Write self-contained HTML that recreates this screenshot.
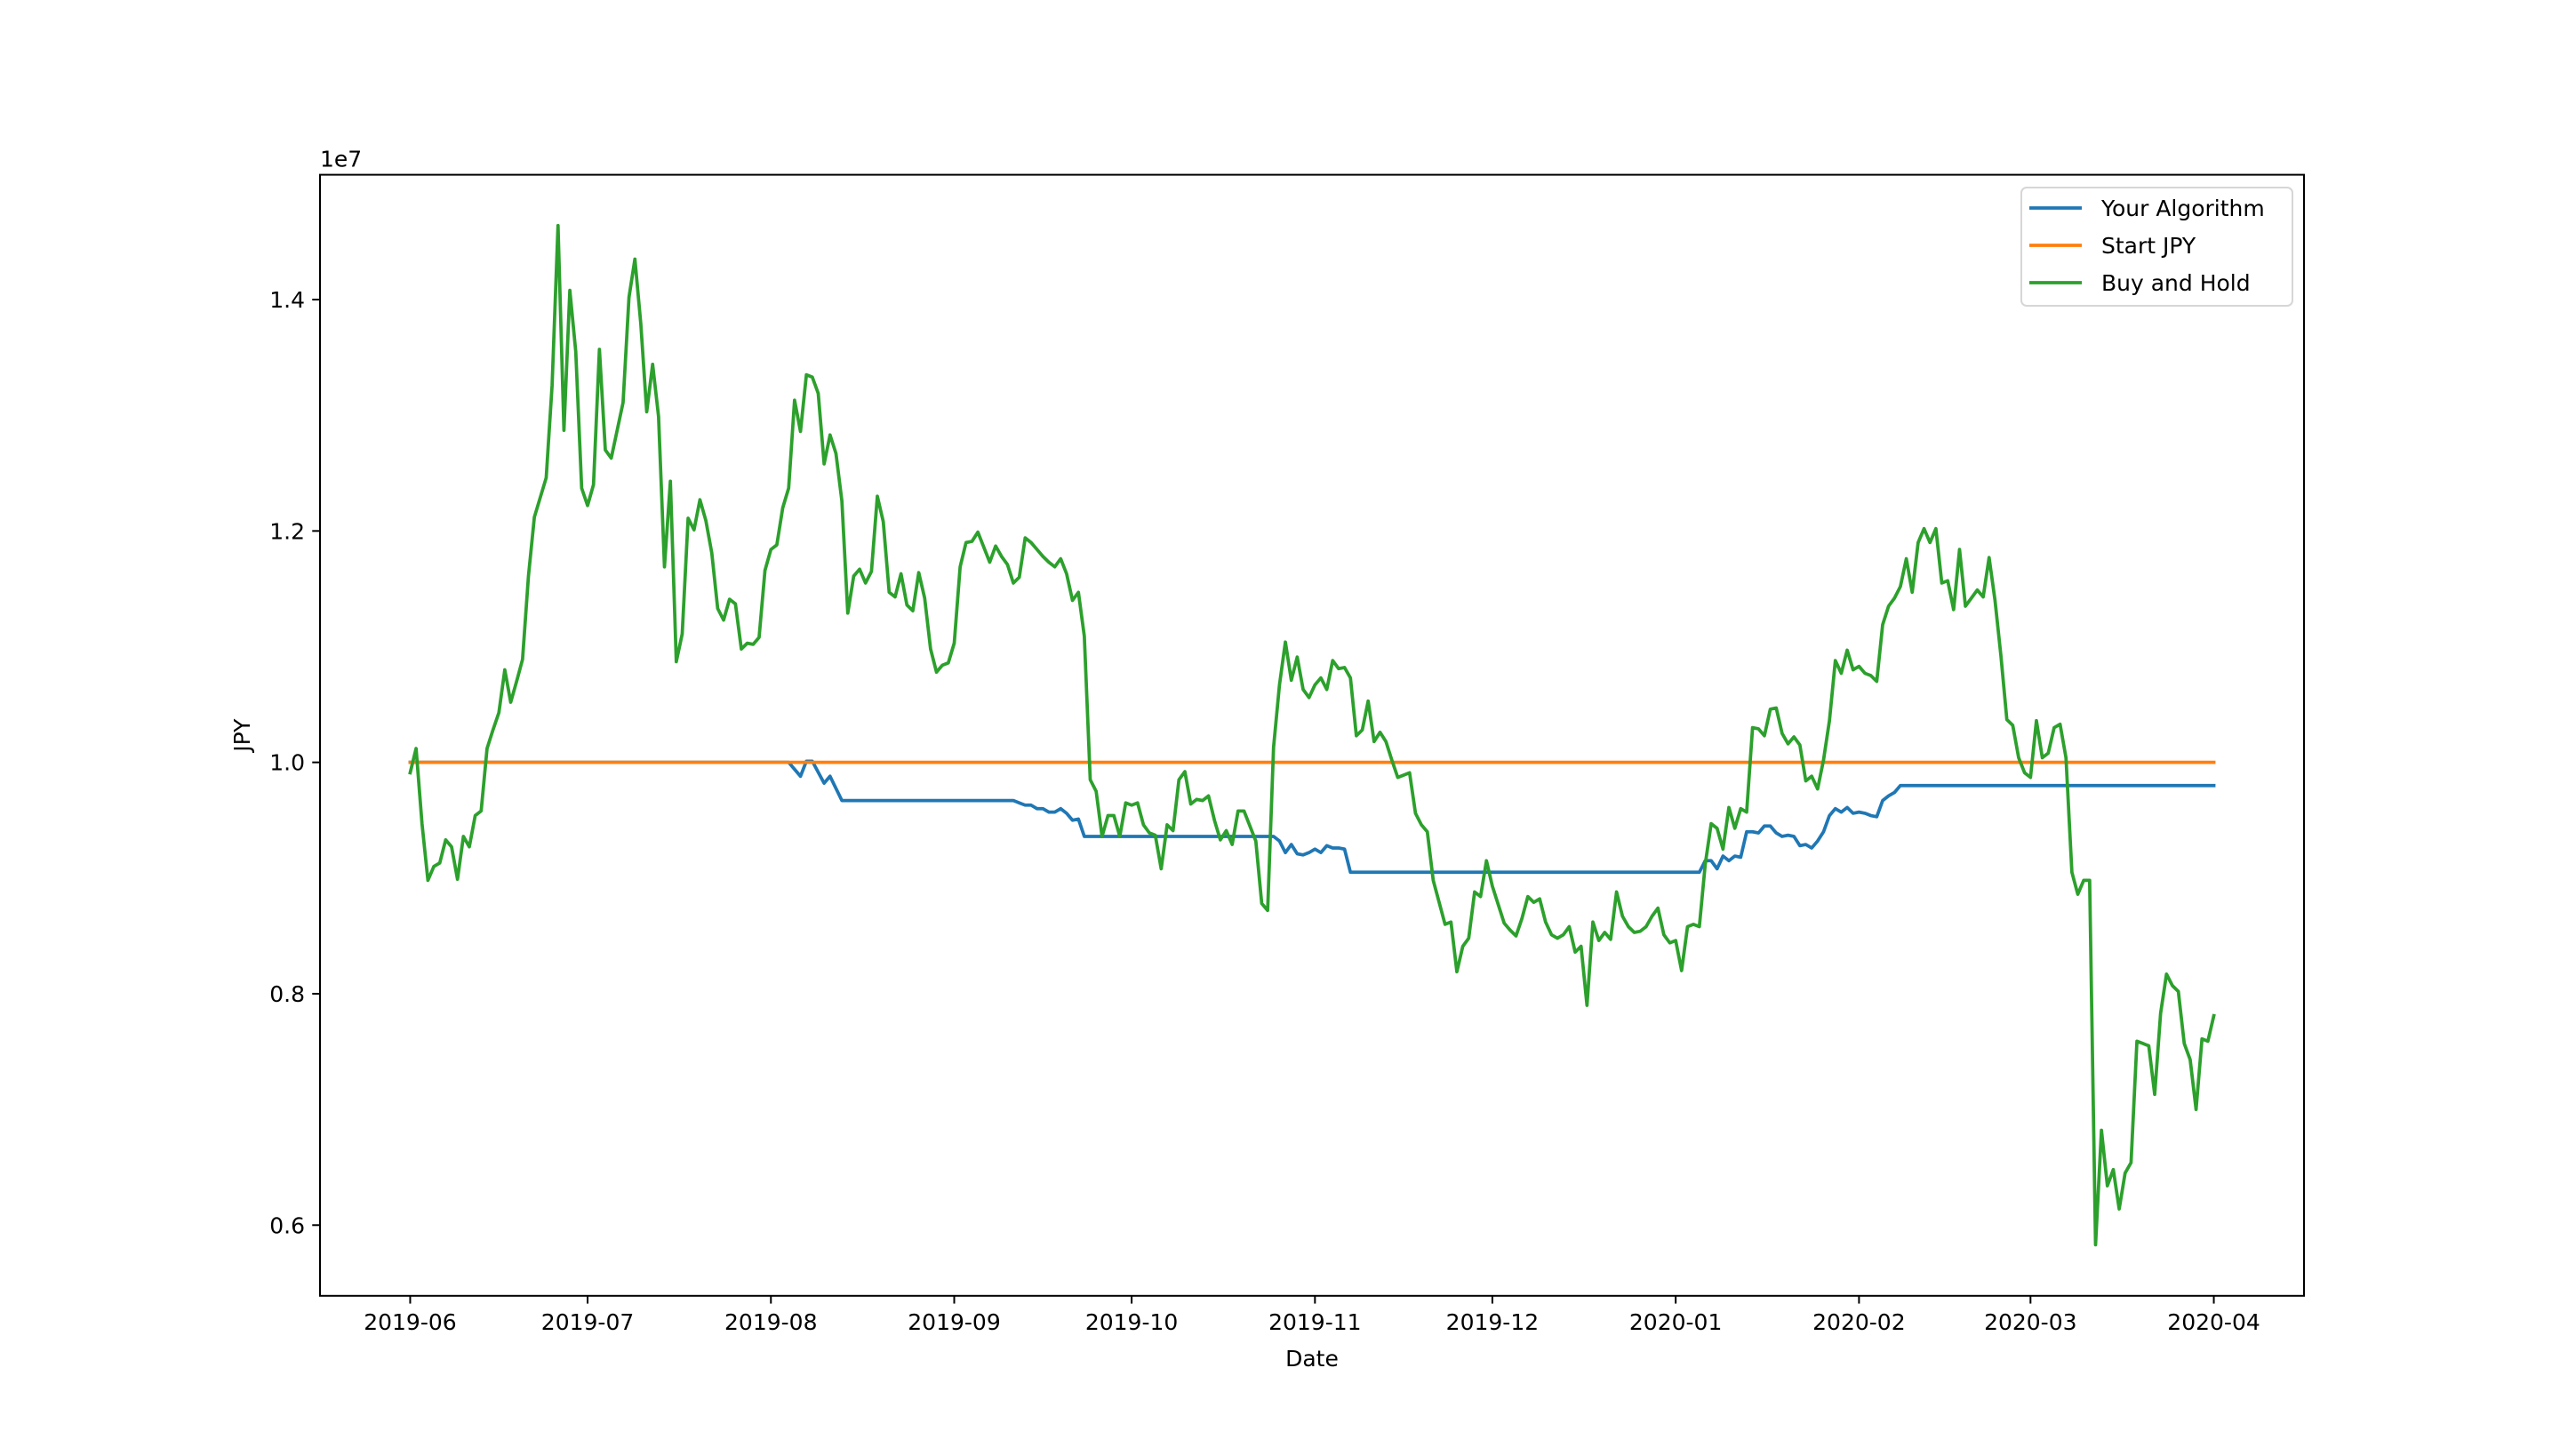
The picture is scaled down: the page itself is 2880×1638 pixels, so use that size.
<!DOCTYPE html>
<html><head><meta charset="utf-8"><style>
html,body{margin:0;padding:0;background:#fff;}
svg{display:block;font-family:"DejaVu Sans","Liberation Sans",sans-serif;}
</style></head><body>
<svg id="chart" width="2880" height="1638" viewBox="0 0 2880 1638" xmlns="http://www.w3.org/2000/svg">
<rect width="2880" height="1638" fill="#fff"/>
<g id="plot"></g>
</svg>
<script>
const startDate = "2019-06-01";
const xTickLabels = ["2019-06","2019-07","2019-08","2019-09","2019-10","2019-11","2019-12","2020-01","2020-02","2020-03","2020-04"];
const xTickDays = [0,30,61,92,122,153,183,214,245,274,305];
const yTickValues = [0.6,0.8,1.0,1.2,1.4];
const yTickLabels = ["0.6","0.8","1.0","1.2","1.4"];
const holdDays = [0,1,2,3,4,5,6,7,8,9,10,11,12,13,14,15,16,17,18,19,20,21,23,24,25,26,27,28,29,30,31,32,33,34,35,36,37,38,39,40,41,42,43,44,45,46,47,48,49,50,51,52,53,54,55,56,57,58,59,60,61,62,63,64,65,66,67,68,69,70,71,72,73,74,75,76,77,78,79,80,81,82,83,84,85,86,87,88,89,90,91,92,93,94,95,96,98,99,100,101,102,103,104,105,106,107,108,109,110,111,112,113,114,115,116,117,118,119,120,121,122,123,124,125,126,127,128,129,130,131,132,133,134,135,136,137,138,139,140,141,143,144,145,146,147,148,149,150,151,152,153,154,155,156,157,158,159,160,161,162,163,164,165,166,167,168,169,170,171,172,173,175,176,177,178,179,180,181,182,183,184,185,186,187,188,189,190,191,192,193,194,195,196,197,198,199,200,201,202,203,204,205,206,207,208,209,210,211,212,213,214,215,216,217,218,219,220,221,222,223,224,225,226,227,228,229,230,231,232,233,234,235,236,237,238,239,240,241,242,243,244,245,246,247,248,249,250,251,252,253,254,255,256,257,258,259,260,261,262,263,264,265,266,267,268,269,270,271,272,273,274,275,276,277,278,279,280,281,282,283,284,285,286,287,288,289,290,291,292,293,294,295,296,297,298,299,300,301,302,303,304,305];
const holdValues = [0.991,1.012,0.947,0.898,0.910,0.913,0.933,0.927,0.899,0.936,0.927,0.954,0.958,1.012,1.028,1.043,1.080,1.052,1.070,1.089,1.161,1.212,1.246,1.326,1.464,1.287,1.408,1.355,1.237,1.222,1.240,1.357,1.270,1.263,1.287,1.311,1.402,1.435,1.379,1.303,1.344,1.299,1.169,1.243,1.087,1.111,1.211,1.201,1.227,1.209,1.181,1.133,1.123,1.141,1.137,1.098,1.103,1.102,1.108,1.166,1.184,1.188,1.220,1.237,1.313,1.286,1.335,1.333,1.319,1.258,1.283,1.267,1.226,1.129,1.161,1.167,1.155,1.165,1.230,1.208,1.147,1.143,1.163,1.136,1.131,1.164,1.142,1.098,1.078,1.084,1.086,1.103,1.169,1.190,1.191,1.199,1.173,1.187,1.178,1.171,1.155,1.160,1.194,1.190,1.184,1.178,1.173,1.169,1.176,1.163,1.140,1.147,1.109,0.985,0.975,0.936,0.954,0.954,0.936,0.965,0.963,0.965,0.946,0.939,0.937,0.908,0.946,0.941,0.985,0.992,0.964,0.968,0.967,0.971,0.950,0.933,0.941,0.929,0.958,0.958,0.932,0.878,0.872,1.013,1.067,1.104,1.071,1.091,1.063,1.056,1.067,1.073,1.063,1.088,1.081,1.082,1.073,1.023,1.028,1.053,1.018,1.026,1.018,1.002,0.987,0.989,0.991,0.956,0.946,0.940,0.898,0.860,0.862,0.819,0.841,0.848,0.888,0.884,0.915,0.893,0.877,0.861,0.855,0.850,0.865,0.884,0.879,0.882,0.862,0.851,0.848,0.851,0.858,0.836,0.841,0.790,0.862,0.846,0.853,0.847,0.888,0.867,0.858,0.853,0.854,0.858,0.867,0.874,0.851,0.844,0.846,0.820,0.858,0.860,0.858,0.912,0.947,0.943,0.925,0.961,0.943,0.960,0.957,1.030,1.029,1.023,1.046,1.047,1.025,1.016,1.022,1.015,0.984,0.988,0.977,1.002,1.036,1.088,1.077,1.097,1.080,1.083,1.077,1.075,1.070,1.119,1.135,1.142,1.152,1.176,1.147,1.190,1.202,1.190,1.202,1.155,1.157,1.132,1.184,1.135,1.142,1.149,1.143,1.177,1.140,1.092,1.037,1.032,1.004,0.991,0.987,1.036,1.004,1.008,1.030,1.033,1.004,0.905,0.886,0.898,0.898,0.583,0.682,0.634,0.648,0.614,0.645,0.654,0.759,0.757,0.755,0.713,0.783,0.817,0.807,0.802,0.757,0.743,0.700,0.761,0.759,0.781];
const algoDays = [0,64,66,67,68,70,71,73,102,103,104,105,106,107,108,109,110,111,112,113,114,146,147,148,149,150,151,152,153,154,155,156,157,158,159,218,219,220,221,222,223,224,225,226,227,228,229,230,231,232,233,234,235,236,237,238,239,240,241,242,243,244,245,246,247,248,249,250,251,252,305];
const algoValues = [1.0,1.0,0.988,1.001,1.001,0.982,0.988,0.967,0.967,0.965,0.963,0.963,0.960,0.960,0.957,0.957,0.960,0.956,0.950,0.951,0.936,0.936,0.932,0.922,0.929,0.921,0.920,0.922,0.925,0.922,0.928,0.926,0.926,0.925,0.905,0.905,0.915,0.915,0.908,0.919,0.915,0.919,0.918,0.940,0.940,0.939,0.945,0.945,0.939,0.936,0.937,0.936,0.928,0.929,0.926,0.932,0.940,0.954,0.960,0.957,0.961,0.956,0.957,0.956,0.954,0.953,0.967,0.971,0.974,0.980,0.980];
const startDays = [0,305];
const startValues = [1.0,1.0];

const L=360,R=2592,T=196.6,B=1457.8;
const xMin=-15.25,xMax=320.25;
const yMin=0.5389,yMax=1.5079;
const xS=d=>L+(d-xMin)/(xMax-xMin)*(R-L);
const yS=v=>B-(v-yMin)/(yMax-yMin)*(B-T);
const NS="http://www.w3.org/2000/svg";
const g=document.getElementById('plot');
function mk(tag,attrs,parent){const e=document.createElementNS(NS,tag);for(const k in attrs)e.setAttribute(k,attrs[k]);(parent||g).appendChild(e);return e;}

function series(days,vals,color,name){
  const pts=days.map((d,i)=>xS(d).toFixed(2)+","+yS(vals[i]).toFixed(2)).join(" ");
  const p=mk('polyline',{points:pts,fill:'none',stroke:color,'stroke-width':3.75,'stroke-linejoin':'round','stroke-linecap':'square'});
  
  
}
series(algoDays,algoValues,'#1f77b4','your-algorithm-line');
series(startDays,startValues,'#ff7f0e','start-jpy-line');
series(holdDays,holdValues,'#2ca02c','buy-and-hold-line');

const fr=mk('rect',{x:L,y:T,width:R-L,height:B-T,fill:'none',stroke:'#000','stroke-width':2});



xTickDays.forEach((d,i)=>{
  const x=xS(d);
  const t=mk('line',{x1:x,y1:B,x2:x,y2:B+8.75,stroke:'#000','stroke-width':2});
  
  
  const tx=mk('text',{x:x,y:B+38,'text-anchor':'middle','font-size':25,fill:'#000'});
  tx.textContent=xTickLabels[i];
  
  
});
yTickValues.forEach((v,i)=>{
  const y=yS(v);
  const t=mk('line',{x1:L-8.75,y1:y,x2:L,y2:y,stroke:'#000','stroke-width':2});
  
  
  const tx=mk('text',{x:L-17,y:y+9,'text-anchor':'end','font-size':25,fill:'#000'});
  tx.textContent=yTickLabels[i];
  
  
});
const off=mk('text',{x:L,y:T-9,'font-size':25,fill:'#000'});
off.textContent='1e7';


const xt=mk('text',{x:(L+R)/2,y:1537,'text-anchor':'middle','font-size':25,fill:'#000'});
xt.textContent='Date';


const yt=mk('text',{x:0,y:0,'text-anchor':'middle','font-size':25,fill:'#000',transform:'translate(281,'+((T+B)/2)+') rotate(-90)'});
yt.textContent='JPY';



const lg=mk('g',{});


mk('rect',{x:2274,y:211,width:305,height:133,rx:6,fill:'#fff','fill-opacity':0.8,stroke:'#d6d6d6','stroke-width':2},lg);
const legNames=['Your Algorithm','Start JPY','Buy and Hold'];
const legColors=['#1f77b4','#ff7f0e','#2ca02c'];
const legKeys=['legend-entry-your-algorithm','legend-entry-start-jpy','legend-entry-buy-and-hold'];
legNames.forEach((n,i)=>{
  const y=234+i*42;
  const eg=mk('g',{},lg);
  
  
  mk('line',{x1:2283,y1:y,x2:2342,y2:y,stroke:legColors[i],'stroke-width':3.75},eg);
  const t=mk('text',{x:2364,y:y+9,'font-size':25,fill:'#000'},eg);
  t.textContent=n;
});
</script>
</body></html>
